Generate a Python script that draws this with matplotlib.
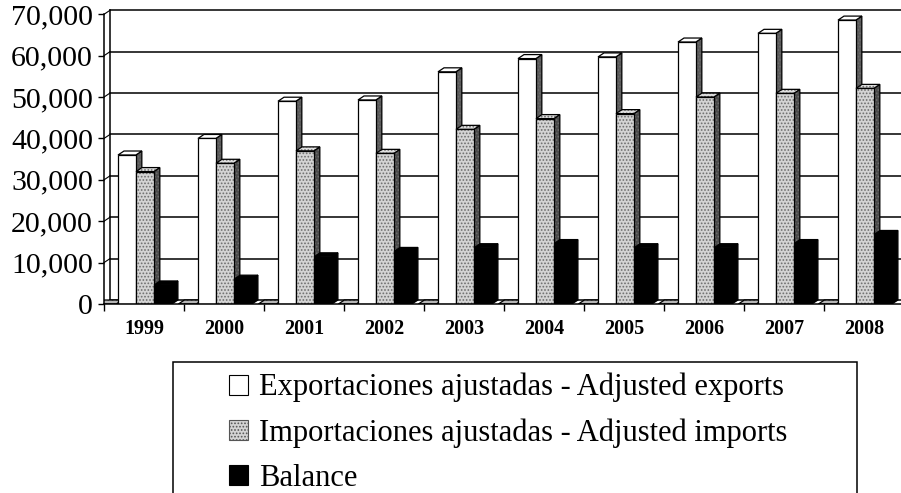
"""Exportaciones / importaciones ajustadas y balance, 1999-2008 (barras con efecto 3D)."""
import matplotlib
matplotlib.use('Agg')
import matplotlib.pyplot as plt
from matplotlib.patches import Patch, Rectangle

plt.rcParams['font.family'] = ['Liberation Serif', 'DejaVu Serif']
plt.rcParams['hatch.color'] = '#6e6e6e'
plt.rcParams['hatch.linewidth'] = 0.8

years = ['1999', '2000', '2001', '2002', '2003', '2004', '2005', '2006', '2007', '2008']
exports = [36000, 40000, 49000, 49300, 56100, 59300, 59700, 63300, 65400, 68600]
imports = [32000, 34000, 37000, 36400, 42200, 44800, 46000, 50000, 50900, 52100]
balance = [4600, 6000, 11400, 12700, 13600, 14600, 13600, 13600, 14600, 16800]
hidden = [0] * 10   # serie casi nula que asoma al pie de cada grupo
labels = ['Exportaciones ajustadas - Adjusted exports',
          'Importaciones ajustadas - Adjusted imports',
          'Balance']

W, H = 901, 493
fig = plt.figure(figsize=(W / 100, H / 100), dpi=100)
# marco en pixeles: eje frontal x=104, 0 en y=304, 70,000 en y=14.3
ax = fig.add_axes([104 / W, (H - 304) / H, 800 / W, 289.7 / H])
ymax = 70000
ax.set_xlim(0, 10)
ax.set_ylim(0, ymax)

# profundidad del efecto 3D, en unidades de datos (6 px a la derecha, 4 px arriba)
DX = 6 / 80.0
DY = 4 / 289.7 * ymax

# pared del fondo: lineas de division desplazadas
for v in range(0, ymax + 1, 10000):
    ax.plot([DX, 10 + DX], [v + DY, v + DY], color='k', lw=1.1, zorder=1, clip_on=False)
    ax.plot([0, DX], [v, v + DY], color='k', lw=0.8, zorder=1, clip_on=False)
ax.plot([DX, DX], [DY, ymax + DY], color='k', lw=1.1, zorder=1, clip_on=False)

w = 0.223
z = [3]


def bar3d(x0, v, front, side, top, hatch=None, dark=None):
    z[0] += 1
    sx = [x0 + w, x0 + w + DX, x0 + w + DX, x0 + w]
    sy = [0, DY, v + DY, v]
    tx = [x0, x0 + DX, x0 + w + DX, x0 + w]
    ty = [v, v + DY, v + DY, v]
    fx = [x0, x0, x0 + w, x0 + w]
    fy = [0, v, v, 0]
    for xs, ys, c, h in [(sx, sy, side, dark), (tx, ty, top, hatch), (fx, fy, front, hatch)]:
        ax.fill(xs, ys, facecolor=c, hatch=h, lw=0, zorder=z[0])
        ax.fill(xs, ys, fill=False, edgecolor='k', lw=0.9, zorder=z[0])


for i in range(len(years)):
    bar3d(i - 0.07, hidden[i], '#9a9a9a', '#555555', '#b5b5b5', '....', '....')
    bar3d(i + 0.175, exports[i], 'white', '#5a5a5a', 'white', None, '.....')
    bar3d(i + 0.40, imports[i], '#d4d4d4', '#4a4a4a', '#e0e0e0', '.....', '.....')
    bar3d(i + 0.626, balance[i], 'black', 'black', 'black')

for s in ['top', 'right']:
    ax.spines[s].set_visible(False)
for s in ['left', 'bottom']:
    ax.spines[s].set_linewidth(1.1)
    ax.spines[s].set_zorder(50)

ax.set_yticks(range(0, ymax + 1, 10000))
ax.set_yticklabels(['{:,}'.format(v) for v in range(0, ymax + 1, 10000)], fontsize=21.5)
ax.tick_params(axis='y', direction='out', length=4, width=1, pad=4)
ax.set_xticks(range(0, 11))
ax.set_xticklabels([])
ax.tick_params(axis='x', which='major', direction='out', length=5, width=1)
ax.set_xticks([i + 0.5 for i in range(len(years))], minor=True)
ax.set_xticklabels(years, minor=True, fontsize=14.5, fontweight='bold')
ax.tick_params(axis='x', which='minor', length=0, pad=11)

# leyenda con marco propio (el marco sale por abajo de la imagen)
fig.add_artist(Rectangle((173 / W, -0.05), (857 - 173) / W, (H - 362) / H + 0.05,
                         transform=fig.transFigure, fill=False, edgecolor='k', lw=1.1))
handles = [Patch(facecolor='white', edgecolor='k', lw=0.8),
           Patch(facecolor='#d4d4d4', edgecolor='#555555', hatch='.....', lw=0.8),
           Patch(facecolor='black', edgecolor='k', lw=0.8)]
fig.legend(handles, labels, loc='upper left', bbox_to_anchor=(229 / W, 1 - 373 / H),
           frameon=False, fontsize=22, handlelength=0.62, handleheight=0.62,
           handletextpad=0.36, labelspacing=0.52, borderpad=0, borderaxespad=0)

fig.savefig('out.png', dpi=100)
